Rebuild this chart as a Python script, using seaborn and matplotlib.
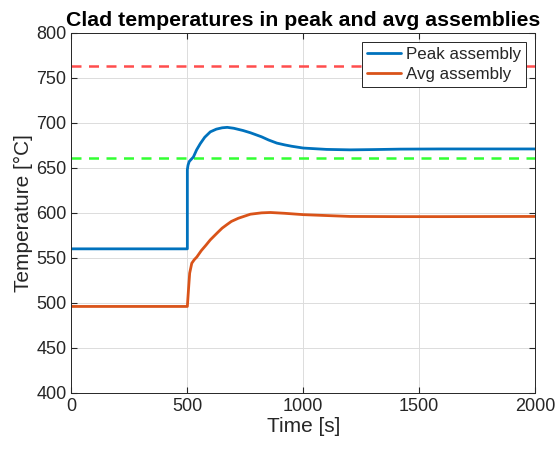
import numpy as np
import pandas as pd
import matplotlib
matplotlib.use('Agg')
import matplotlib.pyplot as plt
import seaborn as sns

# --- dados ---
peak_time = [0, 500, 500, 503, 508, 515, 526, 540, 556, 575, 599, 625, 650, 672, 700,
             740, 772, 820, 850, 886, 920, 950, 1000, 1100, 1203, 1300, 1418, 1600, 1800, 2000]
peak_temp = [560, 560, 648, 653, 657, 659, 662, 670, 677, 684, 690, 693, 694.5, 695, 694,
             691.5, 689, 684.5, 681, 677.5, 675.5, 674, 672, 670.5, 670, 670.3, 670.8, 671, 671, 671]

avg_time = [0, 500, 505, 510, 519, 530, 541, 560, 580, 599, 630, 650, 671, 690, 720, 772,
            820, 858, 920, 1000, 1100, 1203, 1400, 1600, 2000]
avg_temp = [496, 496, 515, 533, 544, 548, 551, 558, 564, 570, 578, 583, 587, 590.5, 594, 598.5,
            600, 600.4, 599.5, 598, 597, 596, 595.8, 595.8, 596]

limit_red = 763
limit_green = 661

sns.set_style('whitegrid')
plt.rcParams['font.family'] = ['Liberation Sans', 'DejaVu Sans']

fig = plt.figure(figsize=(5.58, 4.5), dpi=100)
ax = fig.add_axes([0.128, 0.127, 0.831, 0.8])

df_peak = pd.DataFrame({'t': peak_time, 'T': peak_temp})
df_avg = pd.DataFrame({'t': avg_time, 'T': avg_temp})

sns.lineplot(data=df_peak, x='t', y='T', ax=ax, estimator=None, sort=False,
             color='#0072BD', lw=2, label='Peak assembly')
sns.lineplot(data=df_avg, x='t', y='T', ax=ax, estimator=None, sort=False,
             color='#D95319', lw=2, label='Avg assembly')
ax.axhline(limit_red, color='#FF4D4D', ls=(0, (4, 3)), lw=1.8, zorder=1)
ax.axhline(limit_green, color='#33FF33', ls=(0, (4, 3)), lw=1.8, zorder=1)

ax.set_xlim(0, 2000)
ax.set_ylim(400, 800)
ax.set_xticks(np.arange(0, 2001, 500))
ax.set_yticks(np.arange(400, 801, 50))
ax.tick_params(direction='in', length=4, labelsize=13, colors='#262626',
               top=True, right=True, bottom=True, left=True)
ax.grid(True, color='#dcdcdc', lw=0.7)
for s in ax.spines.values():
    s.set_visible(True)
    s.set_color('#262626')
    s.set_linewidth(0.7)

ax.set_xlabel('Time [s]', fontsize=15, color='#262626', labelpad=2)
ax.set_ylabel('Temperature [°C]', fontsize=15, color='#262626', labelpad=2)
ax.set_title('Clad temperatures in peak and avg assemblies', fontsize=15.3,
             weight='bold', pad=5, color='black')

leg = ax.legend(loc='upper right', fontsize=12.2, fancybox=False, framealpha=1,
                edgecolor='#262626', borderaxespad=0.55, handlelength=2.0,
                handletextpad=0.3, borderpad=0.3, labelspacing=0.3)
leg.get_frame().set_linewidth(0.7)

plt.savefig('out.png', dpi=100)
plt.close()
